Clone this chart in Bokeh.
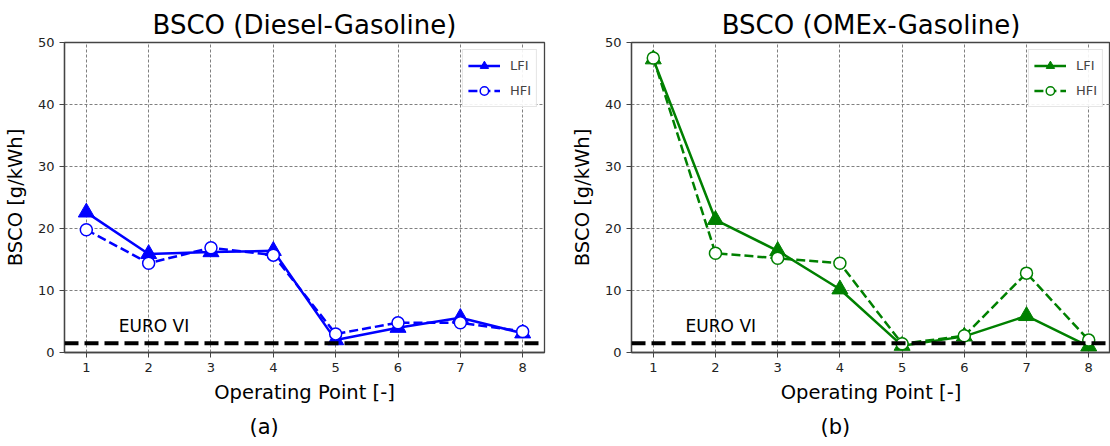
from bokeh.plotting import figure
from bokeh.models import (Range1d, Span, Label, Legend, LegendItem, Title,
                          FixedTicker, ColumnDataSource)
from bokeh.layouts import row
from bokeh.embed import file_html
from bokeh.resources import INLINE

# ---------------- data ----------------
ops = [1, 2, 3, 4, 5, 6, 7, 8]
diesel_lfi = [22.6, 15.9, 16.2, 16.4, 2.0, 4.0, 5.6, 3.1]
diesel_hfi = [19.8, 14.4, 16.9, 15.7, 3.0, 4.8, 4.8, 3.4]
omex_lfi = [47.3, 21.4, 16.4, 10.2, 1.1, 2.6, 5.9, 1.0]
omex_hfi = [47.5, 16.0, 15.2, 14.4, 1.4, 2.7, 12.8, 2.0]
euro_vi = 1.5
y_ticks = [0, 10, 20, 30, 40, 50]

FONT = "DejaVu Sans"


def make_panel(title, lfi, hfi, color, sub, sub_offset, border_left, border_right):
    p = figure(width=555, height=446, output_backend="svg", toolbar_location=None,
               x_range=Range1d(0.65, 8.35), y_range=Range1d(0, 50),
               min_border_left=border_left, min_border_right=border_right,
               min_border_top=42, min_border_bottom=94)
    p.title.text = title
    p.title.text_font = FONT
    p.title.text_font_size = "26px"
    p.title.text_font_style = "normal"
    p.title.align = "center"
    p.title.text_color = "black"
    p.title.standoff = 6

    p.background_fill_color = "white"
    p.border_fill_color = "white"
    p.outline_line_color = "#444444"
    p.outline_line_width = 1.3

    for ax in (p.xaxis[0], p.yaxis[0]):
        ax.axis_line_color = "#444444"
        ax.axis_line_width = 1.3
        ax.major_tick_line_color = "#444444"
        ax.major_tick_out = 5
        ax.major_tick_in = 0
        ax.minor_tick_line_color = None
        ax.major_label_text_font = FONT
        ax.major_label_text_font_size = "13px"
        ax.major_label_text_color = "#222222"
        ax.axis_label_text_font = FONT
        ax.axis_label_text_font_size = "19.5px"
        ax.axis_label_text_font_style = "normal"
        ax.axis_label_text_color = "black"
    p.xaxis.ticker = FixedTicker(ticks=ops)
    p.yaxis.ticker = FixedTicker(ticks=y_ticks)
    p.xaxis.axis_label = "Operating Point [-]"
    p.yaxis.axis_label = "BSCO [g/kWh]"
    p.xaxis.major_label_standoff = 5
    p.yaxis.major_label_standoff = 5
    p.xaxis.axis_label_standoff = 6
    p.yaxis.axis_label_standoff = 8

    p.grid.grid_line_color = "#808080"
    p.grid.grid_line_dash = "3 2"
    p.grid.grid_line_width = 1

    src = ColumnDataSource(dict(x=ops, lfi=lfi, hfi=hfi))

    l1 = p.line("x", "lfi", source=src, line_color=color, line_width=2.5)
    s1 = p.scatter("x", "lfi", source=src, marker="triangle", size=16,
                   fill_color=color, line_color=color)
    l2 = p.line("x", "hfi", source=src, line_color=color, line_width=2.5,
                line_dash="9 4")
    s2 = p.scatter("x", "hfi", source=src, marker="circle", size=12,
                   fill_color="white", line_color=color, line_width=1.5)

    span = Span(location=euro_vi, dimension="width", line_color="black",
                line_width=4, line_dash="14 6")
    p.add_layout(span)
    p.add_layout(Label(x=1.52, y=euro_vi + 1.2, text="EURO VI",
                       text_font=FONT, text_font_size="17px",
                       text_color="black"))

    legend = Legend(items=[LegendItem(label="LFI", renderers=[l1, s1]),
                           LegendItem(label="HFI", renderers=[l2, s2])],
                    location="top_right")
    legend.label_text_font = FONT
    legend.label_text_font_size = "13px"
    legend.border_line_color = "#cccccc"
    legend.border_line_width = 1
    legend.background_fill_alpha = 0.9
    legend.margin = 7
    legend.padding = 5
    legend.spacing = 4
    legend.glyph_width = 32
    legend.glyph_height = 21
    legend.label_standoff = 10
    p.add_layout(legend)

    sub_t = Title(text=sub, align="left", text_font=FONT,
                  text_font_size="21px", text_font_style="normal",
                  text_color="black", standoff=13, offset=sub_offset)
    p.add_layout(sub_t, "below")
    return p


p1 = make_panel("BSCO (Diesel-Gasoline)", diesel_lfi, diesel_hfi, "#0000ff",
                "(a)", 185, 64, 11)
p2 = make_panel("BSCO (OMEx-Gasoline)", omex_lfi, omex_hfi, "#008000",
                "(b)", 189, 76, 0)

layout = row(p1, p2)
open("out.html", "w").write(file_html(layout, INLINE))
